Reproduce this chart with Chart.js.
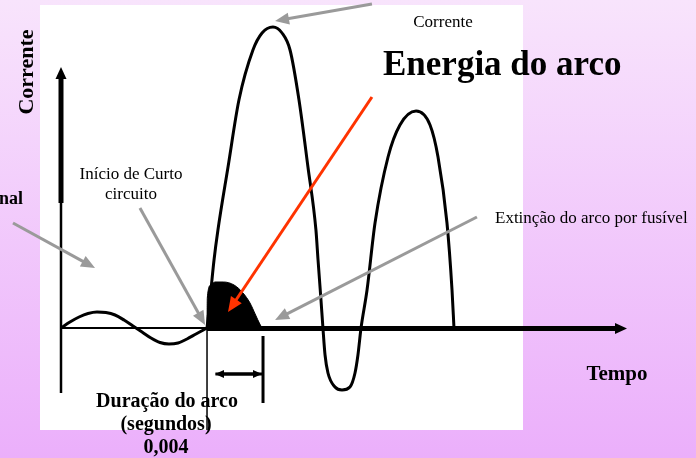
<!DOCTYPE html>
<html>
<head>
<meta charset="utf-8">
<script src="https://cdn.jsdelivr.net/npm/chart.js@4/dist/chart.umd.min.js"></script>
<style>
html,body{margin:0;padding:0;overflow:hidden;background:#f3cdfb;}
canvas{display:block;}
</style>
</head>
<body>
<canvas id="c" width="696" height="458"></canvas>
<script>
// time in ms, current in kA
const normalT = [0, 0.64, 1.29, 1.93, 2.57, 3.21, 3.86, 4.5, 5.14, 5.79, 6.43, 7.07, 7.71, 8.36, 9.0, 9.64, 10.43];
const normalI = [0, 0.6, 1.1, 1.45, 1.6, 1.55, 1.3, 0.8, 0.2, -0.4, -1.0, -1.45, -1.6, -1.5, -1.1, -0.6, 0];
const faultT = [10.43, 10.64, 10.93, 11.21, 11.93, 12.71, 13.71, 14.36, 15.14, 15.79, 16.36, 17.0, 17.64, 18.21, 18.36, 18.57, 18.71,
  18.86, 19.07, 19.57, 20.07, 20.64, 21.0, 21.21, 21.43,
  21.86, 22.43, 23.36, 24.21, 25.36, 26.36, 26.93, 27.57, 27.93, 28.07];
const faultI = [0, 2.8, 6.8, 9.8, 16.1, 22.8, 27.8, 29.5, 30.1, 29.5, 27.8, 22.8, 16.1, 9.8, 6.8, 2.8, 0,
  -2.7, -4.5, -5.9, -6.2, -5.9, -4.5, -2.7, 0,
  3.8, 10.5, 17.1, 20.3, 21.7, 20.3, 17.1, 10.5, 3.8, 0];
// arc energy region
const arcT = [10.43, 10.45, 10.7, 11.0, 11.6, 12.36, 13.0, 13.5, 13.9, 14.2, 14.36];
const arcI = [0, 3.0, 4.3, 4.6, 4.6, 4.3, 3.5, 2.5, 1.3, 0.4, 0];
const arcStart = 10.43, arcEnd = 14.43; // 0,004 s
const axisEndT = 40.43, axisTopI = 26.1, axisBottomI = -6.5;

const labels = {
  yTitle: 'Corrente', xTitle: 'Tempo', peak: 'Corrente', energy: 'Energia do arco',
  start: ['Início de Curto', 'circuito'], ext: 'Extinção do arco por fusível',
  normal: 'nal', dur: ['Duração do arco', '(segundos)', '0,004']
};

const pts = (T, I) => T.map((t, k) => ({x: t, y: I[k]}));
const SERIF = '"Liberation Serif","Times New Roman",serif';

function arrow(ctx, x1, y1, x2, y2, color, w, hl, hw) {
  const a = Math.atan2(y2 - y1, x2 - x1);
  ctx.save();
  ctx.strokeStyle = color; ctx.fillStyle = color; ctx.lineWidth = w;
  ctx.beginPath(); ctx.moveTo(x1, y1);
  ctx.lineTo(x2 - Math.cos(a) * hl * 0.8, y2 - Math.sin(a) * hl * 0.8); ctx.stroke();
  ctx.beginPath();
  ctx.moveTo(x2, y2);
  ctx.lineTo(x2 - Math.cos(a) * hl + Math.sin(a) * hw / 2, y2 - Math.sin(a) * hl - Math.cos(a) * hw / 2);
  ctx.lineTo(x2 - Math.cos(a) * hl - Math.sin(a) * hw / 2, y2 - Math.sin(a) * hl + Math.cos(a) * hw / 2);
  ctx.closePath(); ctx.fill();
  ctx.restore();
}

const bgPlugin = {
  id: 'bg',
  beforeDraw(chart) {
    const ctx = chart.ctx;
    const g = ctx.createLinearGradient(0, 0, 0, 458);
    g.addColorStop(0, '#f8e4fc'); g.addColorStop(1, '#ebaffb');
    ctx.save(); ctx.fillStyle = g; ctx.fillRect(0, 0, 696, 458);
    ctx.fillStyle = '#ffffff'; ctx.fillRect(40, 5, 483, 425);
    ctx.restore();
  },
  beforeDatasetsDraw(chart) {
    const ctx = chart.ctx, sx = chart.scales.x, sy = chart.scales.y;
    const X = v => sx.getPixelForValue(v), Y = v => sy.getPixelForValue(v);
    ctx.save();
    ctx.strokeStyle = '#000'; ctx.fillStyle = '#000';
    // y axis
    ctx.lineWidth = 2.5;
    ctx.beginPath(); ctx.moveTo(X(0), Y(axisBottomI)); ctx.lineTo(X(0), Y(12.5)); ctx.stroke();
    ctx.lineWidth = 5;
    ctx.beginPath(); ctx.moveTo(X(0), Y(12.5)); ctx.lineTo(X(0), Y(axisTopI) + 8); ctx.stroke();
    ctx.beginPath(); ctx.moveTo(X(0), Y(axisTopI)); ctx.lineTo(X(0) - 5.5, Y(axisTopI) + 12); ctx.lineTo(X(0) + 5.5, Y(axisTopI) + 12); ctx.closePath(); ctx.fill();
    // x axis (thin part)
    ctx.lineWidth = 2;
    ctx.beginPath(); ctx.moveTo(X(0), Y(0)); ctx.lineTo(X(arcStart), Y(0)); ctx.stroke();
    // marker lines
    ctx.lineWidth = 1.5;
    ctx.beginPath(); ctx.moveTo(X(arcStart), Y(0)); ctx.lineTo(X(arcStart), Y(-10.2)); ctx.stroke();
    ctx.lineWidth = 3;
    ctx.beginPath(); ctx.moveTo(X(arcEnd), Y(-0.8)); ctx.lineTo(X(arcEnd), Y(-7.5)); ctx.stroke();
    ctx.restore();
    arrow(ctx, X(arcEnd) - 1, Y(-4.6), X(arcStart + 0.57), Y(-4.6), '#000', 3, 9, 8);
    arrow(ctx, X(arcStart + 0.6), Y(-4.6), X(arcEnd) - 1, Y(-4.6), '#000', 3, 9, 8);
  },
  afterDatasetsDraw(chart) {
    const ctx = chart.ctx, sx = chart.scales.x, sy = chart.scales.y;
    const X = v => sx.getPixelForValue(v), Y = v => sy.getPixelForValue(v);
    ctx.save();
    ctx.strokeStyle = '#000'; ctx.fillStyle = '#000'; ctx.lineWidth = 5;
    ctx.beginPath(); ctx.moveTo(X(arcStart), Y(0) + 0.5); ctx.lineTo(X(axisEndT) - 8, Y(0) + 0.5); ctx.stroke();
    ctx.beginPath(); ctx.moveTo(X(axisEndT), Y(0) + 0.5); ctx.lineTo(X(axisEndT) - 12, Y(0) - 5); ctx.lineTo(X(axisEndT) - 12, Y(0) + 6); ctx.closePath(); ctx.fill();
    ctx.restore();
    // gray callout arrows
    const G = '#9a9a9a';
    arrow(ctx, X(22.21), Y(32.4), X(15.29), Y(30.7), G, 3, 14, 12);
    arrow(ctx, X(-3.43), Y(10.5), X(2.43), Y(6.0), G, 3, 14, 12);
    arrow(ctx, X(5.64), Y(12.0), X(10.29), Y(0.3), G, 3, 14, 12);
    arrow(ctx, X(29.71), Y(11.1), X(15.29), Y(0.8), G, 3, 14, 12);
    arrow(ctx, X(22.21), Y(23.1), X(11.93), Y(1.6), '#ff3300', 3, 15, 13);
    // texts
    ctx.save();
    ctx.fillStyle = '#000'; ctx.textBaseline = 'alphabetic';
    ctx.textAlign = 'center';
    ctx.font = '17px ' + SERIF;
    ctx.fillText(labels.peak, 443, 27);
    ctx.fillText(labels.start[0], 131, 179);
    ctx.fillText(labels.start[1], 131, 199);
    ctx.textAlign = 'left';
    ctx.fillText(labels.ext, 495, 223);
    ctx.font = 'bold 35px ' + SERIF;
    ctx.fillText(labels.energy, 383, 75);
    ctx.textAlign = 'right';
    ctx.font = 'bold 18px ' + SERIF;
    ctx.fillText(labels.normal, 23, 204);
    ctx.textAlign = 'center';
    ctx.font = 'bold 21px ' + SERIF;
    ctx.fillText(labels.xTitle, 617, 380);
    ctx.font = 'bold 20px ' + SERIF;
    ctx.fillText(labels.dur[0], 167, 407);
    ctx.fillText(labels.dur[1], 166, 430);
    ctx.fillText(labels.dur[2], 166, 453);
    ctx.translate(33, 72); ctx.rotate(-Math.PI / 2);
    ctx.font = 'bold 22px ' + SERIF;
    ctx.fillText(labels.yTitle, 0, 0);
    ctx.restore();
  }
};

new Chart(document.getElementById('c'), {
  type: 'scatter',
  data: {
    datasets: [
      { data: pts(arcT, arcI), showLine: true, fill: 'origin', backgroundColor: '#000', borderColor: '#000',
        borderWidth: 1, pointRadius: 0, cubicInterpolationMode: 'monotone', order: 3 },
      { data: pts(normalT, normalI), showLine: true, fill: false, borderColor: '#000', borderWidth: 3,
        pointRadius: 0, cubicInterpolationMode: 'monotone', order: 2 },
      { data: pts(faultT, faultI), showLine: true, fill: false, borderColor: '#000', borderWidth: 3,
        pointRadius: 0, cubicInterpolationMode: 'monotone', order: 1 }
    ]
  },
  options: {
    responsive: false, devicePixelRatio: 1, animation: false, events: [],
    layout: { padding: 0 },
    plugins: { legend: { display: false }, tooltip: { enabled: false } },
    scales: {
      x: { type: 'linear', display: false, min: -61 / 14, max: 635 / 14 },
      y: { type: 'linear', display: false, min: -13.0, max: 32.8 }
    }
  },
  plugins: [bgPlugin]
});
</script>
</body>
</html>
